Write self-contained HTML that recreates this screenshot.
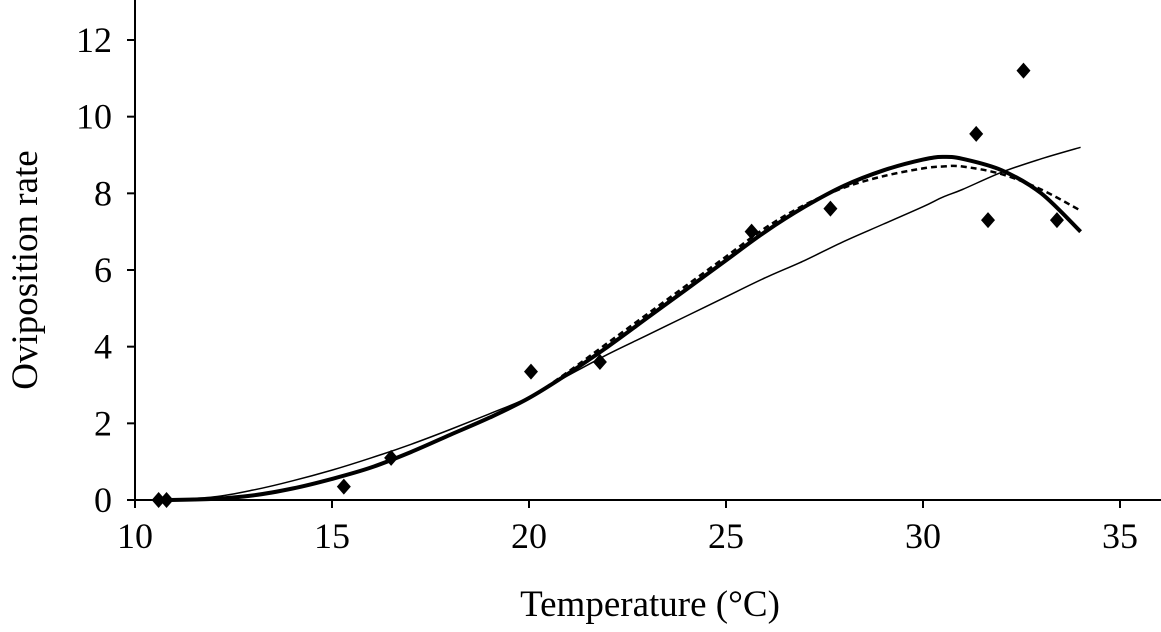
<!DOCTYPE html>
<html><head><meta charset="utf-8">
<style>
html,body{margin:0;padding:0;background:#fff;}
svg{display:block;font-family:"Liberation Serif",serif;}
</style></head>
<body>
<svg id="chart" width="1161" height="632" viewBox="0 0 1161 632" xmlns="http://www.w3.org/2000/svg">
<g id="axes"></g>
<g id="curves"></g>
<g id="points"></g>
<text x="37" y="270" font-size="37" text-anchor="middle" transform="rotate(-90 37 270)">Oviposition rate</text>
<text x="650" y="616" font-size="37" text-anchor="middle">Temperature (°C)</text>
</svg>
<script>
const xTicks=[10,15,20,25,30,35];
const yTicks=[0,2,4,6,8,10,12];
const obsTemp=[10.6,10.8,15.3,16.5,20.05,21.8,25.65,27.65,31.35,31.65,32.55,33.4];
const obsRate=[0,0,0.35,1.1,3.35,3.6,7.0,7.6,9.55,7.3,11.2,7.3];
const curveTemp=[10.8,12,13,14,15,16,17,18,19,20,21,22,23,24,25,26,27,28,29,30,30.5,31,32,33,34];
const thickRate=[0,0.03,0.12,0.3,0.55,0.85,1.25,1.7,2.15,2.66,3.3,4.0,4.75,5.5,6.25,7.0,7.65,8.2,8.6,8.88,8.95,8.9,8.6,8.0,7.0];
const dashRate=[0,0.03,0.12,0.3,0.55,0.85,1.25,1.7,2.15,2.66,3.35,4.1,4.85,5.6,6.35,7.1,7.7,8.15,8.45,8.65,8.7,8.7,8.5,8.1,7.55];
const thinRate=[0,0.08,0.26,0.5,0.78,1.1,1.45,1.84,2.25,2.68,3.25,3.8,4.3,4.8,5.3,5.8,6.25,6.75,7.2,7.65,7.9,8.1,8.55,8.9,9.2];
const NS="http://www.w3.org/2000/svg";
const X=v=>135+(v-10)*(985/25);
const Y=v=>500-v*(460/12);
function mk(t,a,parent){const e=document.createElementNS(NS,t);for(const k in a)e.setAttribute(k,a[k]);parent.appendChild(e);return e;}
const ax=document.getElementById('axes');
let l=mk('line',{x1:135,y1:0,x2:135,y2:501,stroke:'#000','stroke-width':2},ax);


l=mk('line',{x1:134,y1:500,x2:1161,y2:500,stroke:'#000','stroke-width':2},ax);


yTicks.forEach(v=>{
 const t=mk('line',{x1:127,y1:Y(v),x2:135,y2:Y(v),stroke:'#000','stroke-width':2},ax);
 
 
 const s=mk('text',{x:112,y:Y(v)+12,'font-size':36,'text-anchor':'end'},ax);s.textContent=v;
 
 
});
xTicks.forEach(v=>{
 const t=mk('line',{x1:X(v),y1:500,x2:X(v),y2:508,stroke:'#000','stroke-width':2},ax);
 
 
 const s=mk('text',{x:X(v),y:548,'font-size':36,'text-anchor':'middle'},ax);s.textContent=v;
 
 
});
const cg=document.getElementById('curves');
function path(vals){
 const pts=vals.map((v,i)=>[X(curveTemp[i]),Y(v)]);
 let d='M'+pts[0][0].toFixed(1)+' '+pts[0][1].toFixed(1);
 for(let i=0;i<pts.length-1;i++){
  const p0=pts[Math.max(i-1,0)],p1=pts[i],p2=pts[i+1],p3=pts[Math.min(i+2,pts.length-1)];
  const c1=[p1[0]+(p2[0]-p0[0])/6,p1[1]+(p2[1]-p0[1])/6];
  const c2=[p2[0]-(p3[0]-p1[0])/6,p2[1]-(p3[1]-p1[1])/6];
  d+=` C${c1[0].toFixed(1)} ${c1[1].toFixed(1)} ${c2[0].toFixed(1)} ${c2[1].toFixed(1)} ${p2[0].toFixed(1)} ${p2[1].toFixed(1)}`;
 }
 return d;
}
let p=mk('path',{d:path(thinRate),fill:'none',stroke:'#000','stroke-width':1.5},cg);


p=mk('path',{d:path(dashRate),fill:'none',stroke:'#000','stroke-width':2.5,'stroke-dasharray':'6 4'},cg);


p=mk('path',{d:path(thickRate),fill:'none',stroke:'#000','stroke-width':4,'stroke-linejoin':'round'},cg);


const pg=document.getElementById('points');
obsTemp.forEach((t,i)=>{
 const x=X(t),y=Y(obsRate[i]);
 const d=mk('path',{d:`M${x} ${y-8} L${x+7} ${y} L${x} ${y+8} L${x-7} ${y} Z`,fill:'#000'},pg);
 
 
});
</script>
</body></html>
